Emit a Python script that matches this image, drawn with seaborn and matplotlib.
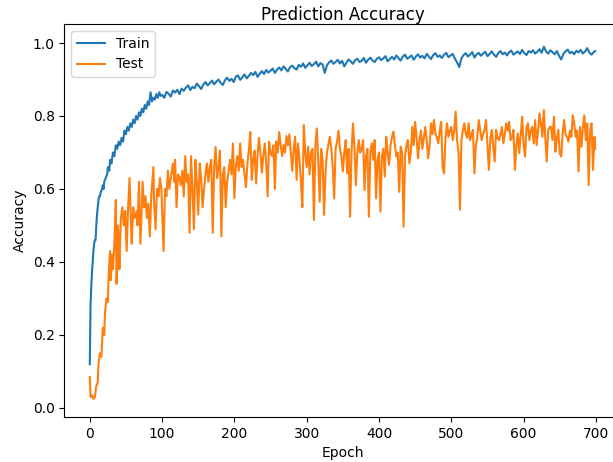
import matplotlib
matplotlib.use("Agg")
import matplotlib.pyplot as plt
import seaborn as sns
import pandas as pd

# ---- data ----
train_epochs = [0, 1, 2, 3, 4, 5, 6, 7, 8, 9, 10, 11, 12, 13, 14, 15, 17, 18, 19, 20,
                22, 24, 25, 27, 28, 30, 32, 34, 36, 38, 40, 42, 44, 46, 48, 50, 52, 54,
                56, 58, 60, 62, 64, 66, 68, 70, 72, 74, 76, 78, 80, 82, 84, 86, 88, 90,
                92, 94, 96, 98] + list(range(100, 700, 3)) + [699]
train_acc = [0.12, 0.28, 0.33, 0.37, 0.40, 0.43, 0.45, 0.46, 0.46, 0.50, 0.53, 0.55, 0.57,
             0.58, 0.58, 0.59, 0.60, 0.61, 0.60, 0.62, 0.63, 0.64, 0.66, 0.65, 0.68, 0.67,
             0.70, 0.69, 0.72, 0.71, 0.73, 0.72, 0.74, 0.73, 0.76, 0.75, 0.77, 0.76, 0.78,
             0.77, 0.79, 0.78, 0.80, 0.79, 0.81, 0.80, 0.82, 0.81, 0.83, 0.82, 0.84, 0.83,
             0.865, 0.84, 0.85, 0.845, 0.86, 0.85, 0.865, 0.855,
             0.858, 0.850, 0.866, 0.861, 0.853, 0.870, 0.864, 0.872, 0.860, 0.875,  # 100
             0.869, 0.878, 0.884, 0.871, 0.880, 0.876, 0.889, 0.882, 0.874, 0.886,  # 130
             0.893, 0.884, 0.890, 0.897, 0.887, 0.894, 0.900, 0.891, 0.885, 0.898,  # 160
             0.905, 0.896, 0.902, 0.893, 0.908, 0.911, 0.899, 0.906, 0.914, 0.903,  # 190
             0.910, 0.918, 0.912, 0.921, 0.907, 0.916, 0.923, 0.915, 0.926, 0.919,  # 220
             0.924, 0.930, 0.918, 0.927, 0.933, 0.925, 0.936, 0.929, 0.922, 0.934,  # 250
             0.938, 0.931, 0.927, 0.940, 0.935, 0.944, 0.932, 0.939, 0.946, 0.937,  # 280
             0.942, 0.949, 0.936, 0.945, 0.941, 0.918, 0.939, 0.947, 0.952, 0.943,  # 310
             0.948, 0.954, 0.944, 0.951, 0.936, 0.946, 0.955, 0.949, 0.943, 0.953,  # 340
             0.957, 0.948, 0.951, 0.959, 0.946, 0.954, 0.960, 0.952, 0.948, 0.957,  # 370
             0.961, 0.953, 0.958, 0.964, 0.950, 0.956, 0.962, 0.955, 0.966, 0.958,  # 400
             0.952, 0.963, 0.968, 0.957, 0.961, 0.966, 0.954, 0.963, 0.969, 0.960,  # 430
             0.965, 0.958, 0.970, 0.963, 0.956, 0.967, 0.972, 0.962, 0.966, 0.959,  # 460
             0.968, 0.973, 0.961, 0.966, 0.970, 0.957, 0.947, 0.934, 0.958, 0.967,  # 490
             0.972, 0.963, 0.968, 0.975, 0.960, 0.969, 0.973, 0.965, 0.971, 0.976,  # 520
             0.964, 0.970, 0.977, 0.968, 0.962, 0.972, 0.978, 0.969, 0.974, 0.966,  # 550
             0.975, 0.979, 0.968, 0.973, 0.977, 0.970, 0.981, 0.972, 0.967, 0.978,  # 580
             0.974, 0.980, 0.971, 0.976, 0.983, 0.973, 0.990, 0.977, 0.971, 0.980,  # 610
             0.975, 0.969, 0.978, 0.965, 0.955, 0.970, 0.977, 0.982, 0.972, 0.976,  # 640
             0.969, 0.979, 0.974, 0.981, 0.971, 0.977, 0.986, 0.973, 0.968, 0.975,  # 670
             0.978]

test_epochs = [0, 1, 3, 5, 7, 9, 11, 12, 14, 16, 18, 20, 21, 23, 25, 26, 28, 29, 31, 32,
               34, 36, 37, 39, 40, 41, 43, 45, 47, 49, 51, 53, 55, 57, 58, 60, 62, 65, 66,
               68, 70, 72, 73, 75, 77, 79, 81, 83, 85, 88, 89, 91, 93, 95, 97, 99, 102,
               104, 106, 108, 110, 112, 115, 117, 118, 120, 122] + list(range(124, 700, 2)) + [699]
test_acc = [0.085, 0.03, 0.035, 0.025, 0.03, 0.06, 0.07, 0.12, 0.15, 0.14, 0.22, 0.20, 0.26,
            0.30, 0.29, 0.36, 0.43, 0.35, 0.42, 0.38, 0.45, 0.57, 0.34, 0.50, 0.45, 0.38,
            0.52, 0.55, 0.50, 0.54, 0.43, 0.55, 0.63, 0.50, 0.45, 0.55, 0.52, 0.54, 0.50,
            0.62, 0.45, 0.55, 0.62, 0.55, 0.58, 0.52, 0.56, 0.47, 0.58, 0.66, 0.56, 0.49,
            0.60, 0.58, 0.63, 0.60, 0.43, 0.60, 0.58, 0.65, 0.60, 0.63, 0.67, 0.62, 0.68,
            0.55, 0.64,
            0.633, 0.61, 0.65, 0.58, 0.69, 0.62, 0.64, 0.48, 0.69, 0.60,   # 124
            0.49, 0.68, 0.62, 0.53, 0.67, 0.63, 0.55, 0.60, 0.64, 0.67,    # 144
            0.62, 0.66, 0.68, 0.48, 0.66, 0.715, 0.63, 0.66, 0.705, 0.47,  # 164
            0.64, 0.66, 0.55, 0.62, 0.65, 0.68, 0.64, 0.725, 0.575, 0.66,  # 184
            0.69, 0.65, 0.725, 0.66, 0.68, 0.64, 0.605, 0.67, 0.705, 0.756,  # 204
            0.625, 0.68, 0.705, 0.615, 0.69, 0.74, 0.70, 0.645, 0.69, 0.725,  # 224
            0.67, 0.58, 0.73, 0.70, 0.69, 0.72, 0.60, 0.73, 0.70, 0.756,   # 244
            0.72, 0.69, 0.72, 0.70, 0.745, 0.72, 0.75, 0.70, 0.65, 0.71,   # 264
            0.743, 0.625, 0.725, 0.68, 0.62, 0.55, 0.775, 0.70, 0.66, 0.716,  # 284
            0.64, 0.70, 0.71, 0.515, 0.72, 0.766, 0.675, 0.565, 0.71, 0.68,  # 304
            0.529, 0.643, 0.70, 0.72, 0.743, 0.711, 0.66, 0.574, 0.711, 0.73,  # 324
            0.76, 0.71, 0.69, 0.648, 0.70, 0.734, 0.643, 0.71, 0.524, 0.70,  # 344
            0.78, 0.716, 0.61, 0.70, 0.734, 0.70, 0.71, 0.734, 0.597, 0.689,  # 364
            0.71, 0.524, 0.70, 0.725, 0.68, 0.734, 0.574, 0.68, 0.70, 0.538,  # 384
            0.689, 0.71, 0.634, 0.743, 0.70, 0.666, 0.72, 0.743, 0.757, 0.72,  # 404
            0.689, 0.70, 0.592, 0.716, 0.70, 0.497, 0.689, 0.72, 0.734, 0.67,  # 424
            0.70, 0.77, 0.72, 0.784, 0.74, 0.684, 0.734, 0.76, 0.71, 0.74,  # 444
            0.77, 0.734, 0.684, 0.72, 0.78, 0.75, 0.789, 0.752, 0.74, 0.725,  # 464
            0.76, 0.784, 0.66, 0.643, 0.74, 0.78, 0.743, 0.76, 0.77, 0.734,  # 484
            0.76, 0.812, 0.734, 0.70, 0.543, 0.734, 0.76, 0.78, 0.752, 0.74,  # 504
            0.78, 0.734, 0.75, 0.762, 0.643, 0.72, 0.743, 0.789, 0.76, 0.734,  # 524
            0.75, 0.762, 0.789, 0.72, 0.652, 0.74, 0.762, 0.716, 0.675, 0.762,  # 544
            0.74, 0.734, 0.75, 0.77, 0.725, 0.75, 0.78, 0.76, 0.784, 0.734,  # 564
            0.74, 0.762, 0.652, 0.72, 0.752, 0.698, 0.75, 0.798, 0.72, 0.689,  # 584
            0.77, 0.78, 0.734, 0.76, 0.77, 0.725, 0.789, 0.72, 0.76, 0.807,  # 604
            0.78, 0.743, 0.816, 0.74, 0.675, 0.76, 0.77, 0.77, 0.734, 0.798,  # 624
            0.702, 0.74, 0.762, 0.698, 0.689, 0.752, 0.789, 0.75, 0.743, 0.73,  # 644
            0.76, 0.743, 0.802, 0.78, 0.743, 0.76, 0.648, 0.77, 0.716, 0.77,  # 664
            0.802, 0.734, 0.78, 0.61, 0.76, 0.78, 0.652, 0.743,  # 684
            0.71]

title = "Prediction Accuracy"
x_label = "Epoch"
y_label = "Accuracy"
series_names = ["Train", "Test"]
x_ticks = [0, 100, 200, 300, 400, 500, 600, 700]
y_ticks = [0.0, 0.2, 0.4, 0.6, 0.8, 1.0]

train_df = pd.DataFrame({"Epoch": train_epochs, "Accuracy": train_acc})
test_df = pd.DataFrame({"Epoch": test_epochs, "Accuracy": test_acc})

plt.rcParams["font.family"] = ["DejaVu Sans"]
fig = plt.figure(figsize=(6.13, 4.62), dpi=100)
ax = fig.add_axes([0.1052, 0.0974, 0.907, 0.8506])

sns.lineplot(data=train_df, x="Epoch", y="Accuracy", ax=ax, color="#1f77b4",
             linewidth=1.5, label=series_names[0])
sns.lineplot(data=test_df, x="Epoch", y="Accuracy", ax=ax, color="#ff7f0e",
             linewidth=1.5, label=series_names[1])

ax.set_xlim(-35, 734)
ax.set_ylim(-0.0247, 1.052)
ax.set_xticks(x_ticks)
ax.set_yticks(y_ticks)
ax.set_title(title, fontsize=12, pad=3)
ax.set_xlabel(x_label, fontsize=10)
ax.set_ylabel(y_label, fontsize=10)
ax.tick_params(labelsize=10)
ax.legend(loc="upper left", fontsize=10)

fig.savefig("out.png", dpi=100)
